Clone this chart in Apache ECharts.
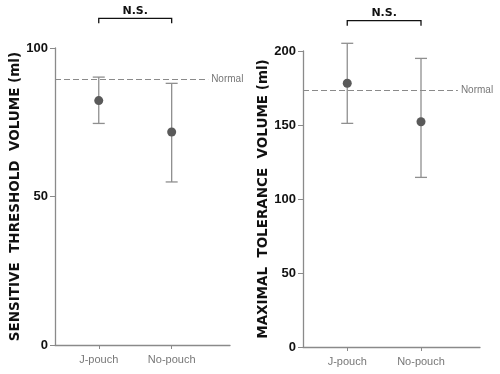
<!DOCTYPE html>
<html>
<head>
<meta charset="utf-8">
<script src="https://cdn.jsdelivr.net/npm/echarts@6/dist/echarts.min.js"></script>
<style>
  html, body { margin: 0; padding: 0; background: #fff; }
  #chart { width: 500px; height: 374px; }
</style>
</head>
<body>
<div id="chart"></div>
<script>
// data
const categories = ['J-pouch', 'No-pouch'];
const catPos = [1, 2];

const sensMean = [82.3, 71.7];
const sensLow = [74.6, 54.9];
const sensHigh = [90.2, 88.1];
const sensNormal = 89.6;

const maxMean = [178.2, 152.2];
const maxLow = [151.1, 114.6];
const maxHigh = [205.2, 195.0];
const maxNormal = 173.6;

const sigLabel = 'N.S.';

const axisGray = '#8a8a8a';
const barGray = '#8f8f8f';
const dotGray = '#5a5a5a';

function errorBars(low, high) {
  return catPos.map((x, i) => [x, low[i], high[i]]);
}

function renderError(params, api) {
  const x = api.value(0);
  const lo = api.coord([x, api.value(1)]);
  const hi = api.coord([x, api.value(2)]);
  const w = 6;
  const st = { stroke: barGray, lineWidth: 1.3 };
  return {
    type: 'group',
    children: [
      { type: 'line', shape: { x1: lo[0], y1: lo[1], x2: hi[0], y2: hi[1] }, style: st },
      { type: 'line', shape: { x1: lo[0] - w, y1: lo[1], x2: lo[0] + w, y2: lo[1] }, style: st },
      { type: 'line', shape: { x1: hi[0] - w, y1: hi[1], x2: hi[0] + w, y2: hi[1] }, style: st }
    ]
  };
}

function renderBracket(params, api) {
  const a = api.coord([api.value(0), api.value(2)]);
  const b = api.coord([api.value(1), api.value(2)]);
  const st = { stroke: '#111', lineWidth: 1.3, fill: null };
  return {
    type: 'group',
    children: [
      { type: 'polyline', shape: { points: [[a[0], a[1] + 5], [a[0], a[1]], [b[0], b[1]], [b[0], b[1] + 5]] }, style: st },
      { type: 'text', style: { text: sigLabel, x: (a[0] + b[0]) / 2, y: a[1] - 2, align: 'center', verticalAlign: 'bottom',
        font: 'bold 11px "DejaVu Sans", sans-serif', fill: '#111' } }
    ]
  };
}

function xAxis(gridIndex) {
  return {
    gridIndex: gridIndex,
    type: 'value',
    min: 0.4,
    max: 2.8,
    splitLine: { show: false },
    axisLine: { lineStyle: { color: axisGray, width: 1.3 } },
    axisTick: { show: true, customValues: catPos, length: 4, lineStyle: { color: axisGray } },
    axisLabel: {
      customValues: catPos,
      formatter: v => categories[catPos.indexOf(v)] || '',
      color: '#777', fontSize: 11, margin: 9, fontFamily: 'Liberation Sans, sans-serif'
    }
  };
}

function yAxis(gridIndex, name, max, interval, gap) {
  return {
    gridIndex: gridIndex,
    type: 'value',
    min: 0,
    max: max,
    interval: interval,
    name: name,
    nameLocation: 'middle',
    nameRotate: 90,
    nameGap: gap,
    nameTextStyle: { fontSize: 13.5, fontWeight: 'bold', color: '#111', fontFamily: 'DejaVu Sans, sans-serif' },
    splitLine: { show: false },
    axisLine: { show: true, lineStyle: { color: axisGray, width: 1.3 } },
    axisTick: { show: true, inside: false, length: 5, lineStyle: { color: axisGray } },
    axisLabel: { color: '#111', fontSize: 13, fontWeight: 'bold', margin: 7, fontFamily: 'Liberation Sans Narrow, Liberation Sans, sans-serif' }
  };
}

function normalLine(xIdx, value) {
  return {
    type: 'line', xAxisIndex: xIdx, yAxisIndex: xIdx, silent: true, symbol: 'none',
    data: [],
    markLine: {
      silent: true, symbol: 'none',
      lineStyle: { color: '#8a8a8a', type: [6, 3], width: 1.2 },
      label: { show: true, position: 'end', formatter: 'Normal', color: '#777', fontSize: 10, distance: 3,
        fontFamily: 'Liberation Sans, sans-serif' },
      data: [[{ coord: [0.4, value] }, { coord: [2.5, value] }]]
    }
  };
}

const option = {
  animation: false,
  backgroundColor: '#fff',
  grid: [
    { left: 55, top: 48, width: 175, bottom: 29, containLabel: false },
    { left: 303, top: 51, width: 177, bottom: 27, containLabel: false }
  ],
  xAxis: [xAxis(0), xAxis(1)],
  yAxis: [
    yAxis(0, 'SENSITIVE  THRESHOLD  VOLUME (ml)', 100, 50, 33),
    yAxis(1, 'MAXIMAL  TOLERANCE  VOLUME (ml)', 200, 50, 30)
  ],
  series: [
    normalLine(0, sensNormal),
    normalLine(1, maxNormal),
    { type: 'custom', xAxisIndex: 0, yAxisIndex: 0, renderItem: renderError, data: errorBars(sensLow, sensHigh), clip: false, silent: true },
    { type: 'custom', xAxisIndex: 1, yAxisIndex: 1, renderItem: renderError, data: errorBars(maxLow, maxHigh), clip: false, silent: true },
    { type: 'scatter', xAxisIndex: 0, yAxisIndex: 0, symbolSize: 9, itemStyle: { color: dotGray, opacity: 1 },
      data: catPos.map((x, i) => [x, sensMean[i]]) },
    { type: 'scatter', xAxisIndex: 1, yAxisIndex: 1, symbolSize: 9, itemStyle: { color: dotGray, opacity: 1 },
      data: catPos.map((x, i) => [x, maxMean[i]]) },
    { type: 'custom', xAxisIndex: 0, yAxisIndex: 0, renderItem: renderBracket, data: [[1, 2, 110]], clip: false, silent: true },
    { type: 'custom', xAxisIndex: 1, yAxisIndex: 1, renderItem: renderBracket, data: [[1, 2, 220.5]], clip: false, silent: true }
  ]
};

const chart = echarts.init(document.getElementById('chart'), null, { renderer: 'canvas' });
chart.setOption(option);
</script>
</body>
</html>
